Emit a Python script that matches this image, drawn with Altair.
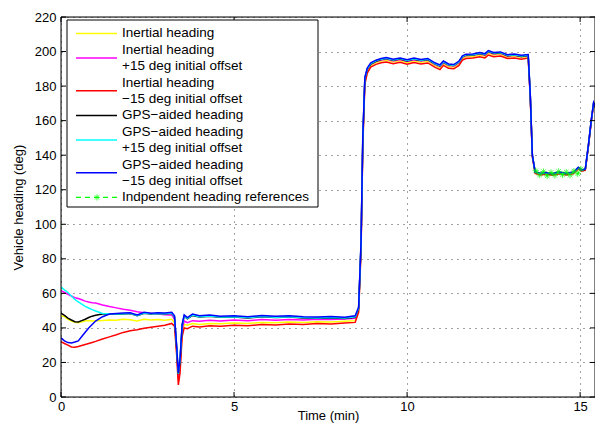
import altair as alt
import pandas as pd

# ---------------- data ----------------
T = [0.0, 0.1, 0.2, 0.3, 0.4, 0.5, 0.6, 0.7, 0.8, 0.9,
     1.0, 1.2, 1.4, 1.6, 1.8, 2.0, 2.2, 2.4, 2.6, 2.8,
     3.0, 3.2, 3.28, 3.34, 3.39, 3.44, 3.5, 3.56, 3.65, 3.8,
     4.0, 4.3, 4.6, 5.0, 5.4, 5.8, 6.2, 6.6, 7.0, 7.4,
     7.8, 8.2, 8.5, 8.6, 8.67, 8.72, 8.78, 8.85, 8.95, 9.1,
     9.25, 9.4, 9.6, 9.8, 10.0, 10.2, 10.4, 10.6, 10.8, 10.95,
     11.05, 11.2, 11.35, 11.5, 11.6, 11.7, 11.9, 12.1, 12.25, 12.35,
     12.5, 12.7, 12.9, 13.1, 13.3, 13.5, 13.56, 13.62, 13.7, 13.85,
     14.0, 14.2, 14.4, 14.6, 14.8, 14.95, 15.05, 15.15, 15.24, 15.32,
     15.39, 15.45, 15.52, 15.58, 15.66]

INERTIAL = [47.0, 46.5, 45.0, 44.0, 43.3, 43.0, 43.5, 44.0, 44.3, 44.0,
            44.2, 44.3, 44.6, 44.4, 45.0, 44.7, 44.0, 45.0, 44.6, 44.8,
            44.5, 45.0, 43.0, 27.0, 10.0, 18.0, 37.0, 42.0, 41.5, 42.5,
            42.0, 42.6, 42.4, 42.9, 42.6, 43.2, 43.0, 43.4, 43.1, 43.6,
            43.4, 43.8, 44.2, 50.0, 87.0, 147.0, 183.0, 189.0, 192.0, 193.6,
            194.5, 195.0, 194.0, 194.8, 193.6, 194.6, 193.8, 194.4, 192.0, 190.6,
            193.0, 191.3, 191.0, 193.0, 196.0, 197.0, 197.2, 198.0, 197.3, 199.0,
            198.0, 198.4, 196.9, 197.3, 196.5, 197.1, 174.0, 139.5, 130.0, 129.0,
            129.5, 128.9, 129.7, 129.1, 129.7, 132.5, 131.2, 131.7, 145.5, 159.5,
            170.0, 167.5, 150.5, 134.5, 124.8]

INERTIAL_P15 = [61.5, 60.5, 59.5, 58.5, 57.5, 57.0, 56.3, 55.5, 55.0, 54.6,
                54.4, 53.3, 52.4, 51.6, 50.8, 50.2, 49.4, 48.8, 48.4, 48.0,
                47.6, 47.5, 45.0, 28.0, 11.0, 19.0, 39.0, 44.0, 43.0, 44.2,
                43.8, 44.4, 44.0, 44.6, 44.2, 44.8, 44.5, 44.9, 44.6, 45.0,
                44.8, 45.1, 45.5, 51.0, 88.0, 148.0, 184.0, 189.6, 192.6, 194.2,
                195.1, 195.6, 194.6, 195.4, 194.3, 195.3, 194.5, 195.1, 192.6, 191.3,
                193.6, 191.9, 191.6, 193.6, 196.6, 197.6, 197.8, 198.6, 197.9, 199.7,
                198.6, 199.0, 197.4, 197.8, 197.0, 197.6, 174.5, 139.8, 130.2, 129.2,
                129.7, 129.1, 129.9, 129.3, 129.9, 132.7, 131.3, 131.8, 145.7, 159.7,
                170.2, 167.7, 150.7, 134.7, 124.9]

INERTIAL_M15 = [32.0, 31.0, 30.0, 29.0, 28.8, 29.2, 29.8, 30.4, 31.0, 31.6,
                32.2, 33.6, 34.8, 36.0, 37.4, 38.4, 39.0, 39.8, 40.4, 41.0,
                41.6, 42.6, 41.0, 25.0, 7.0, 14.0, 35.0, 40.0, 39.5, 41.0,
                40.5, 41.2, 41.0, 41.6, 41.3, 42.0, 41.7, 42.2, 42.0, 42.6,
                42.3, 42.8, 43.2, 49.0, 85.0, 145.0, 181.0, 187.5, 191.0, 192.6,
                193.5, 194.0, 193.0, 193.8, 192.6, 193.6, 192.8, 193.4, 191.0, 189.5,
                192.0, 190.3, 190.0, 192.0, 195.0, 196.0, 196.2, 197.0, 196.3, 198.0,
                197.0, 197.4, 196.0, 196.3, 195.5, 196.2, 173.0, 139.0, 129.5, 128.5,
                129.0, 128.4, 129.2, 128.6, 129.2, 132.0, 130.8, 131.3, 145.0, 159.0,
                169.5, 167.0, 150.0, 134.0, 124.5]

GPS = [48.5, 47.2, 45.7, 44.6, 43.6, 43.4, 44.2, 45.0, 46.0, 46.8,
       47.3, 48.0, 48.1, 47.9, 48.1, 48.3, 47.1, 48.5, 48.1, 48.3,
       48.1, 48.5, 46.3, 29.2, 13.2, 21.2, 41.2, 46.8, 45.3, 47.2,
       46.3, 46.7, 46.1, 46.3, 45.8, 46.4, 46.0, 46.3, 45.8, 45.6,
       45.8, 45.5, 46.2, 51.3, 88.5, 148.5, 184.2, 189.8, 192.8, 194.4,
       195.4, 195.9, 194.9, 195.7, 194.6, 195.6, 194.8, 195.4, 192.9, 191.7,
       193.9, 192.2, 191.9, 193.9, 196.9, 197.9, 198.0, 198.8, 198.2, 200.0,
       198.9, 199.2, 197.6, 198.0, 197.2, 197.7, 174.6, 139.8, 130.2, 129.2,
       129.7, 129.1, 129.9, 129.3, 129.9, 132.7, 131.3, 131.8, 145.7, 159.7,
       170.2, 167.7, 150.7, 134.7, 124.9]

GPS_P15 = [63.7, 62.0, 60.5, 58.5, 56.5, 55.0, 53.8, 52.5, 51.5, 50.6,
           49.8, 48.3, 48.2, 48.0, 48.2, 48.4, 47.2, 48.6, 48.2, 48.4,
           48.2, 48.6, 46.5, 29.5, 13.5, 21.5, 41.5, 47.0, 45.5, 47.4,
           46.5, 46.9, 46.3, 46.5, 46.0, 46.6, 46.2, 46.5, 46.0, 45.8,
           46.0, 45.7, 46.4, 51.5, 89.0, 149.0, 184.5, 190.0, 193.0, 194.6,
           195.6, 196.1, 195.1, 195.9, 194.8, 195.8, 195.0, 195.6, 193.1, 191.9,
           194.1, 192.4, 192.1, 194.1, 197.1, 198.1, 198.2, 199.0, 198.4, 200.2,
           199.1, 199.4, 197.8, 198.2, 197.4, 197.9, 174.8, 139.9, 130.3, 129.3,
           129.8, 129.2, 130.0, 129.4, 130.0, 132.8, 131.4, 131.9, 145.8, 159.8,
           170.3, 167.8, 150.8, 134.8, 124.9]

GPS_M15 = [34.2, 32.5, 31.5, 31.3, 31.8, 32.5, 35.0, 37.5, 40.0, 42.0,
           44.0, 46.5, 48.0, 48.3, 48.6, 48.8, 47.5, 49.0, 48.5, 48.8,
           48.6, 49.0, 47.0, 30.0, 14.0, 22.0, 42.0, 47.5, 46.0, 48.0,
           47.0, 47.5, 46.8, 47.0, 46.5, 47.2, 46.8, 47.0, 46.5, 46.3,
           46.6, 46.2, 47.0, 52.0, 90.0, 150.0, 185.0, 190.5, 193.5, 195.0,
           196.0, 196.5, 195.5, 196.3, 195.2, 196.2, 195.4, 196.0, 193.5, 192.3,
           194.5, 192.8, 192.5, 194.5, 197.5, 198.5, 198.6, 199.4, 198.8, 200.6,
           199.5, 199.8, 198.2, 198.6, 197.8, 198.3, 175.0, 140.0, 130.5, 129.5,
           130.0, 129.4, 130.2, 129.6, 130.2, 133.0, 131.5, 132.0, 146.0, 160.0,
           170.5, 168.0, 151.0, 135.0, 125.0]

REF_T = [13.72, 13.83, 13.94, 14.05, 14.16, 14.27, 14.38, 14.49, 14.6,
         14.71, 14.82, 14.93, 15.02]
REF_V = [131.0, 128.5, 130.5, 128.0, 130.0, 128.3, 130.6, 128.6, 130.2,
         128.4, 130.8, 129.2, 132.0]

SERIES_COLORS = ["#ffff00", "#ff00ff", "#ff0000", "#000000", "#00ffff", "#0000ff"]
SERIES_VALUES = [INERTIAL, INERTIAL_P15, INERTIAL_M15, GPS, GPS_P15, GPS_M15]
REF_COLOR = "#00ff00"

LEGEND_LINES = ["Inertial heading",
                "Inertial heading", "+15 deg initial offset",
                "Inertial heading", "\u221215 deg initial offset",
                "GPS\u2212aided heading",
                "GPS\u2212aided heading", "+15 deg initial offset",
                "GPS\u2212aided heading", "\u221215 deg initial offset",
                "Indpendent heading references"]
LEGEND_ROWS = [1, 2, 2, 1, 2, 2, 1]   # text rows per legend entry
LEGEND_COLORS = SERIES_COLORS + [REF_COLOR]

X_TICKS = [0, 5, 10, 15]
Y_TICKS = [0, 20, 40, 60, 80, 100, 120, 140, 160, 180, 200, 220]

# ---------------- chart ----------------
W, H = 534, 380
FONT = "Liberation Sans"
xs = alt.Scale(domain=[0, 15.43], nice=False, zero=False)
ys = alt.Scale(domain=[0, 220], nice=False, zero=False)

XAXIS = alt.Axis(title="Time (min)", values=X_TICKS, format="d", grid=True,
                 gridDash=[1, 5], gridColor="#444", gridWidth=1, ticks=False,
                 domain=False, labelFont=FONT, labelFontSize=13,
                 labelColor="black", labelPadding=3, labelFlush=False,
                 titleFont=FONT, titleFontSize=13, titleFontWeight="normal",
                 titleColor="black", titleBaseline="alphabetic", titleY=22)
YAXIS = alt.Axis(title="Vehicle heading (deg)", values=Y_TICKS, format="d",
                 grid=True, gridDash=[1, 5], gridColor="#444", gridWidth=1,
                 ticks=False, domain=False, labelFont=FONT, labelFontSize=13,
                 labelColor="black", labelPadding=5, labelFlush=False,
                 titleFont=FONT, titleFontSize=13, titleFontWeight="normal",
                 titleColor="black", titlePadding=9)

XE = alt.X("t:Q", scale=xs, axis=XAXIS)
YE = alt.Y("v:Q", scale=ys, axis=YAXIS)

layers = []
for color, vals in zip(SERIES_COLORS, SERIES_VALUES):
    df = pd.DataFrame({"t": T, "v": vals})
    layers.append(
        alt.Chart(df).mark_line(color=color, strokeWidth=1.5, clip=True).encode(x=XE, y=YE)
    )

ASTERISK = "M-1,0L1,0M0,-1L0,1M-0.7,-0.7L0.7,0.7M-0.7,0.7L0.7,-0.7"
ref_df = pd.DataFrame({"t": REF_T, "v": REF_V})
layers.append(
    alt.Chart(ref_df).mark_line(color=REF_COLOR, strokeWidth=1.2,
                                strokeDash=[4, 3], clip=True).encode(x=XE, y=YE)
)
layers.append(
    alt.Chart(ref_df).mark_point(shape=ASTERISK, color=REF_COLOR, size=40,
                                 strokeWidth=1, filled=False, clip=True).encode(x=XE, y=YE)
)

# inward tick marks on all four sides
TL = 5
xt = pd.DataFrame({"t": X_TICKS})
yt = pd.DataFrame({"v": Y_TICKS})
for y0, y1 in [(H, H - TL), (0, TL)]:
    layers.append(alt.Chart(xt).mark_rule(color="black", strokeWidth=1).encode(
        x=XE, y=alt.value(y0), y2=alt.value(y1)))
for x0, x1 in [(0, TL), (W, W - TL)]:
    layers.append(alt.Chart(yt).mark_rule(color="black", strokeWidth=1).encode(
        y=YE, x=alt.value(x0), x2=alt.value(x1)))

# axes box
one = pd.DataFrame({"a": [0]})
layers.append(alt.Chart(one).mark_rect(fillOpacity=0, stroke="black",
                                       strokeWidth=1).encode(
    x=alt.value(0), x2=alt.value(W), y=alt.value(0), y2=alt.value(H)))

# legend box
LX0, LX1, LY0, LY1 = 6, 257, 3, 190
LEG_TOP, LEG_STEP = 16.4, 16.4
layers.append(alt.Chart(one).mark_rect(fill="white", stroke="black",
                                       strokeWidth=1).encode(
    x=alt.value(LX0), x2=alt.value(LX1), y=alt.value(LY0), y2=alt.value(LY1)))

txt_df = pd.DataFrame({"label": LEGEND_LINES,
                       "py": [LEG_TOP + LEG_STEP * k for k in range(len(LEGEND_LINES))]})
layers.append(alt.Chart(txt_df).mark_text(align="left", baseline="middle",
                                          font=FONT, fontSize=13.5,
                                          color="black").encode(
    x=alt.value(61), y=alt.Y("py:Q", scale=None, axis=None), text="label:N"))

row_start = []
r = 0
for n in LEGEND_ROWS:
    row_start.append(r)
    r += n
samp_py = [LEG_TOP + LEG_STEP * (s + (n - 1) / 2.0) for s, n in zip(row_start, LEGEND_ROWS)]
samp_df = pd.DataFrame({"py": samp_py[:6], "c": LEGEND_COLORS[:6]})
layers.append(alt.Chart(samp_df).mark_rule(strokeWidth=1.5).encode(
    x=alt.value(15), x2=alt.value(56), y=alt.Y("py:Q", scale=None, axis=None),
    color=alt.Color("c:N", scale=None, legend=None)))
ref_samp = pd.DataFrame({"py": [samp_py[6]], "px": [36]})
layers.append(alt.Chart(ref_samp).mark_rule(strokeWidth=1.2, color=REF_COLOR,
                                            strokeDash=[5, 4]).encode(
    x=alt.value(15), x2=alt.value(56), y=alt.Y("py:Q", scale=None, axis=None)))
layers.append(alt.Chart(ref_samp).mark_point(shape=ASTERISK, color=REF_COLOR,
                                             size=40, strokeWidth=1,
                                             filled=False).encode(
    x=alt.X("px:Q", scale=None, axis=None), y=alt.Y("py:Q", scale=None, axis=None)))

chart = alt.layer(*layers).properties(
    width=W, height=H,
    autosize=alt.AutoSizeParams(type="none"),
    padding={"left": 53, "top": 9, "right": 0, "bottom": 26},
).configure_view(stroke=None).configure(background="white")

chart.save("out.html", embed_options={"renderer": "svg", "actions": False})
